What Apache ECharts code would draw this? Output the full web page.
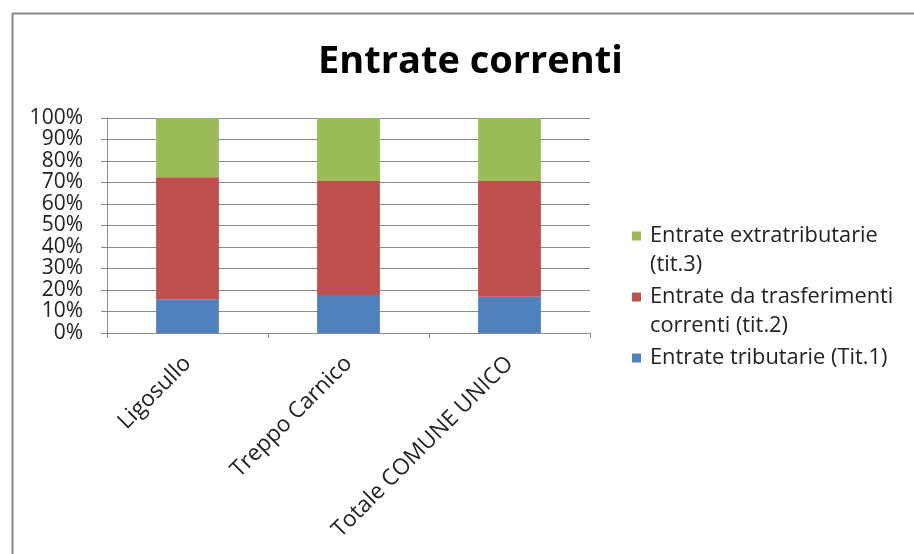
<!DOCTYPE html>
<html>
<head>
<meta charset="utf-8">
<script src="https://cdn.jsdelivr.net/npm/echarts@6/dist/echarts.min.js"></script>
<style>
html,body{margin:0;padding:0;background:#fff;}
#chart{width:914px;height:554px;}
</style>
</head>
<body>
<div id="chart"></div>
<script>
var categories = ['Ligosullo', 'Treppo Carnico', 'Totale COMUNE UNICO'];
var seriesNames = ['Entrate tributarie (Tit.1)', 'Entrate da trasferimenti\ncorrenti (tit.2)', 'Entrate extratributarie\n(tit.3)'];
var tit1 = [15.7, 17.7, 16.9];
var tit2 = [56.7, 53.0, 53.8];
var tit3 = [27.6, 29.3, 29.3];
var colors = ['#4F81BD', '#C0504D', '#9BBB59'];
var yTicks = [0, 100, 10];

var font = '"Open Sans"';
var chart = echarts.init(document.getElementById('chart'), null, {renderer: 'canvas'});
var values = [tit1, tit2, tit3];
var series = seriesNames.map(function (n, i) {
  return {
    name: n, type: 'bar', stack: 'total', data: values[i], barWidth: '39%',
    itemStyle: {color: colors[i]}
  };
});
// legend marker: square aligned with the first text line of a two-line item
var legendIcon = 'path://M0,0 L0.01,0 M0,10 L9,10 L9,19 L0,19 Z M0,58 L0.01,58';
chart.setOption({
  animation: false,
  backgroundColor: '#fff',
  title: {
    text: 'Entrate correnti', left: 313, top: 38,
    textStyle: {fontFamily: font, fontWeight: 'bold', fontSize: 38, color: '#000'}
  },
  graphic: [{
    type: 'rect', left: 10, top: 11, shape: {width: 1000, height: 1000},
    style: {fill: 'none', stroke: '#8a8a8a', lineWidth: 2}, silent: true
  }],
  grid: {left: 107, right: 324, top: 118, bottom: 221},
  legend: {
    orient: 'vertical', left: 627, top: 216, itemWidth: 9, itemHeight: 58, itemGap: 2,
    icon: legendIcon, itemStyle: {borderWidth: 0},
    data: [seriesNames[2], seriesNames[1], seriesNames[0]],
    formatter: function (name) { return name.indexOf('\n') >= 0 ? name : name + '\n '; },
    textStyle: {fontFamily: font, fontSize: 21.8, lineHeight: 29.5, color: '#222', padding: [0, 0, 0, 4]}
  },
  xAxis: {
    type: 'category', data: categories,
    axisLine: {lineStyle: {color: '#8a8a8a'}},
    axisTick: {show: true, length: 5, lineStyle: {color: '#8a8a8a'}},
    axisLabel: {rotate: 45, margin: 27, fontFamily: font, fontSize: 22.5, color: '#222'}
  },
  yAxis: {
    type: 'value', min: yTicks[0], max: yTicks[1], interval: yTicks[2],
    axisLine: {show: true, lineStyle: {color: '#8a8a8a'}},
    axisTick: {show: true, length: 6, lineStyle: {color: '#8a8a8a'}},
    splitLine: {lineStyle: {color: '#8a8a8a'}},
    axisLabel: {formatter: '{value}%', margin: 24, fontFamily: font, fontSize: 21, color: '#222'}
  },
  series: series
});
</script>
</body>
</html>
